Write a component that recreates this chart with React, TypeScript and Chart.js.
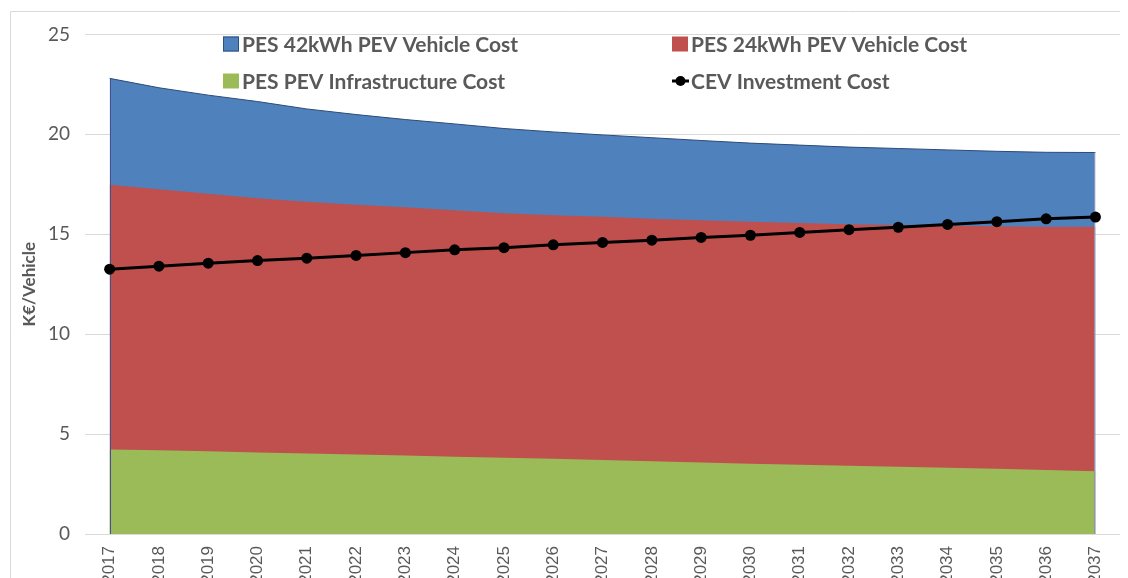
import React, { useEffect, useRef } from "react";
import { Chart, registerables } from "chart.js";

Chart.register(...registerables);

const years = [
  "2017", "2018", "2019", "2020", "2021", "2022", "2023", "2024", "2025", "2026",
  "2027", "2028", "2029", "2030", "2031", "2032", "2033", "2034", "2035", "2036", "2037",
];
const pev42Cost = [
  22.8, 22.33, 21.96, 21.64, 21.27, 20.99, 20.74, 20.52, 20.29, 20.12,
  19.97, 19.83, 19.69, 19.56, 19.46, 19.36, 19.29, 19.22, 19.15, 19.1, 19.09,
];
const pev24Cost = [
  17.48, 17.25, 17.02, 16.8, 16.62, 16.48, 16.35, 16.2, 16.05, 15.95,
  15.88, 15.78, 15.7, 15.62, 15.56, 15.5, 15.46, 15.43, 15.4, 15.38, 15.37,
];
const infraCost = [
  4.23, 4.19, 4.14, 4.08, 4.03, 3.98, 3.93, 3.87, 3.81, 3.76,
  3.7, 3.64, 3.58, 3.52, 3.47, 3.42, 3.37, 3.31, 3.26, 3.2, 3.14,
];
const cevCost = [
  13.25, 13.4, 13.55, 13.68, 13.8, 13.94, 14.08, 14.22, 14.33, 14.47,
  14.59, 14.7, 14.84, 14.95, 15.09, 15.23, 15.35, 15.49, 15.63, 15.77, 15.86,
];
const yTicks = [0, 5, 10, 15, 20, 25];
const seriesNames = [
  "PES 42kWh PEV Vehicle Cost",
  "PES 24kWh PEV Vehicle Cost",
  "PES PEV Infrastructure Cost",
  "CEV Investment Cost",
];

const BLUE = "#4f81bd";
const RED = "#c0504d";
const GREEN = "#9bbb59";
const TEXT = "#595959";
const GRID = "#d9d9d9";
const W = 1120;
const H = 640;

const edgePlugin = {
  id: "areaEdges",
  beforeDatasetDraw(chart: any, args: any) {
    if (args.index !== 0) return;
    const ctx = chart.ctx;
    const x = chart.scales.x;
    const y = chart.scales.y;
    const n = pev42Cost.length - 1;
    ctx.save();
    ctx.lineWidth = 1;
    ctx.strokeStyle = "#45508a";
    const x0 = Math.round(x.getPixelForValue(0)) + 0.5;
    ctx.beginPath();
    ctx.moveTo(x0, y.getPixelForValue(pev42Cost[0]));
    ctx.lineTo(x0, y.getPixelForValue(0));
    ctx.stroke();
    ctx.strokeStyle = "#8c96ad";
    const x1 = Math.round(x.getPixelForValue(n)) - 0.5;
    ctx.beginPath();
    ctx.moveTo(x1, y.getPixelForValue(pev42Cost[n]));
    ctx.lineTo(x1, y.getPixelForValue(0));
    ctx.stroke();
    ctx.restore();
  },
};

const legendPlugin = {
  id: "customLegend",
  afterDraw(chart: any) {
    const ctx = chart.ctx;
    ctx.save();
    // outer border (top and left)
    ctx.strokeStyle = GRID;
    ctx.lineWidth = 1;
    ctx.beginPath();
    ctx.moveTo(2.5, H);
    ctx.lineTo(2.5, 3.5);
    ctx.lineTo(W, 3.5);
    ctx.stroke();
    ctx.font = "bold 21px Lato";
    ctx.fillStyle = TEXT;
    ctx.textBaseline = "middle";
    ctx.textAlign = "left";
    const items = [
      { x: 215, y: 36, kind: "box", color: BLUE, border: "#2f4f7f", label: seriesNames[0] },
      { x: 664, y: 36, kind: "box", color: RED, border: null, label: seriesNames[1] },
      { x: 215, y: 73, kind: "box", color: GREEN, border: null, label: seriesNames[2] },
      { x: 664, y: 73, kind: "line", color: "#000", border: null, label: seriesNames[3] },
    ];
    for (const it of items) {
      if (it.kind === "box") {
        ctx.fillStyle = it.color;
        ctx.fillRect(it.x, it.y - 7.5, 16, 15);
        if (it.border) {
          ctx.strokeStyle = it.border;
          ctx.lineWidth = 1;
          ctx.strokeRect(it.x + 0.5, it.y - 7, 15, 14);
        }
      } else {
        ctx.strokeStyle = "#000";
        ctx.lineWidth = 3;
        ctx.beginPath();
        ctx.moveTo(it.x, it.y);
        ctx.lineTo(it.x + 17, it.y);
        ctx.stroke();
        ctx.fillStyle = "#000";
        ctx.beginPath();
        ctx.arc(it.x + 8.5, it.y, 5, 0, Math.PI * 2);
        ctx.fill();
      }
      ctx.fillStyle = TEXT;
      ctx.fillText(it.label, it.x + 19, it.y + 1);
    }
    ctx.restore();
  },
};

export default function App() {
  const ref = useRef<HTMLCanvasElement>(null);
  useEffect(() => {
    if (!ref.current) return;
    const chart = new Chart(ref.current, {
      type: "line",
      data: {
        labels: years,
        datasets: [
          {
            label: seriesNames[3],
            data: cevCost,
            borderColor: "#000",
            backgroundColor: "#000",
            borderWidth: 3,
            pointRadius: 5.5,
            pointBackgroundColor: "#000",
            pointBorderWidth: 0,
            fill: false,
            order: 0,
          },
          {
            label: seriesNames[2],
            data: infraCost,
            borderColor: GREEN,
            backgroundColor: GREEN,
            borderWidth: 0,
            pointRadius: 0,
            fill: "origin",
            order: 1,
          },
          {
            label: seriesNames[1],
            data: pev24Cost,
            borderColor: RED,
            backgroundColor: RED,
            borderWidth: 0,
            pointRadius: 0,
            fill: "origin",
            order: 2,
          },
          {
            label: seriesNames[0],
            data: pev42Cost,
            borderColor: "#2b4a78",
            backgroundColor: BLUE,
            borderWidth: 1,
            pointRadius: 0,
            fill: "origin",
            order: 3,
          },
        ],
      },
      options: {
        responsive: false,
        animation: false,
        events: [],
        layout: { padding: { left: 0, top: 24, right: 6, bottom: 0 } },
        plugins: {
          legend: { display: false },
          tooltip: { enabled: false },
        },
        elements: { line: { tension: 0 } },
        scales: {
          x: {
            offset: true,
            grid: { display: false, drawTicks: false },
            border: { display: true, color: GRID, width: 1 },
            ticks: {
              color: TEXT,
              font: { family: "Liberation Sans", size: 17 },
              minRotation: 90,
              maxRotation: 90,
              padding: 12,
              autoSkip: false,
            },
            afterFit: (s: any) => {
              s.height = H - 526;
            },
          },
          y: {
            min: 0,
            max: 25,
            afterBuildTicks: (s: any) => {
              s.ticks = yTicks.map((v) => ({ value: v }));
            },
            grid: { color: GRID, lineWidth: 1, drawTicks: false },
            border: { display: false },
            ticks: {
              color: TEXT,
              font: { family: "Lato", size: 19 },
              padding: 15,
            },
            title: {
              display: true,
              text: "K€/Vehicle",
              color: TEXT,
              font: { family: "Lato", size: 17, weight: "bold" },
              padding: { top: 11, bottom: 0 },
            },
            afterFit: (s: any) => {
              s.width = 77;
            },
          },
        },
      },
      plugins: [edgePlugin, legendPlugin],
    });
    return () => chart.destroy();
  }, []);
  return (
    <div style={{ width: W, height: 570, overflow: "hidden" }}>
      <canvas ref={ref} width={W} height={H} style={{ display: "block", width: W, height: H }} />
    </div>
  );
}
